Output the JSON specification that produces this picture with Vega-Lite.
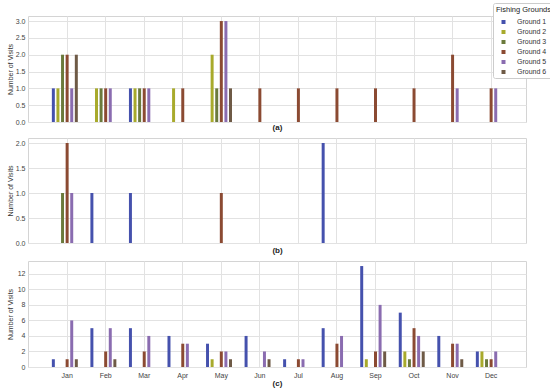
{
  "$schema": "https://vega.github.io/schema/vega-lite/v6.json",
  "padding": {"left": 5, "top": 2, "right": 1, "bottom": 0},
  "background": "white",
  "spacing": 5,
  "datasets": {
    "a": [
      {"month": "Jan", "ground": "Ground 1", "visits": 1},
      {"month": "Jan", "ground": "Ground 2", "visits": 1},
      {"month": "Jan", "ground": "Ground 3", "visits": 2},
      {"month": "Jan", "ground": "Ground 4", "visits": 2},
      {"month": "Jan", "ground": "Ground 5", "visits": 1},
      {"month": "Jan", "ground": "Ground 6", "visits": 2},
      {"month": "Feb", "ground": "Ground 2", "visits": 1},
      {"month": "Feb", "ground": "Ground 3", "visits": 1},
      {"month": "Feb", "ground": "Ground 4", "visits": 1},
      {"month": "Feb", "ground": "Ground 5", "visits": 1},
      {"month": "Mar", "ground": "Ground 1", "visits": 1},
      {"month": "Mar", "ground": "Ground 2", "visits": 1},
      {"month": "Mar", "ground": "Ground 3", "visits": 1},
      {"month": "Mar", "ground": "Ground 4", "visits": 1},
      {"month": "Mar", "ground": "Ground 5", "visits": 1},
      {"month": "Apr", "ground": "Ground 2", "visits": 1},
      {"month": "Apr", "ground": "Ground 4", "visits": 1},
      {"month": "May", "ground": "Ground 2", "visits": 2},
      {"month": "May", "ground": "Ground 3", "visits": 1},
      {"month": "May", "ground": "Ground 4", "visits": 3},
      {"month": "May", "ground": "Ground 5", "visits": 3},
      {"month": "May", "ground": "Ground 6", "visits": 1},
      {"month": "Jun", "ground": "Ground 4", "visits": 1},
      {"month": "Jul", "ground": "Ground 4", "visits": 1},
      {"month": "Aug", "ground": "Ground 4", "visits": 1},
      {"month": "Sep", "ground": "Ground 4", "visits": 1},
      {"month": "Oct", "ground": "Ground 4", "visits": 1},
      {"month": "Nov", "ground": "Ground 4", "visits": 2},
      {"month": "Nov", "ground": "Ground 5", "visits": 1},
      {"month": "Dec", "ground": "Ground 4", "visits": 1},
      {"month": "Dec", "ground": "Ground 5", "visits": 1}
    ],
    "b": [
      {"month": "Jan", "ground": "Ground 3", "visits": 1},
      {"month": "Jan", "ground": "Ground 4", "visits": 2},
      {"month": "Jan", "ground": "Ground 5", "visits": 1},
      {"month": "Feb", "ground": "Ground 1", "visits": 1},
      {"month": "Mar", "ground": "Ground 1", "visits": 1},
      {"month": "May", "ground": "Ground 4", "visits": 1},
      {"month": "Aug", "ground": "Ground 1", "visits": 2}
    ],
    "c": [
      {"month": "Jan", "ground": "Ground 1", "visits": 1},
      {"month": "Jan", "ground": "Ground 4", "visits": 1},
      {"month": "Jan", "ground": "Ground 5", "visits": 6},
      {"month": "Jan", "ground": "Ground 6", "visits": 1},
      {"month": "Feb", "ground": "Ground 1", "visits": 5},
      {"month": "Feb", "ground": "Ground 4", "visits": 2},
      {"month": "Feb", "ground": "Ground 5", "visits": 5},
      {"month": "Feb", "ground": "Ground 6", "visits": 1},
      {"month": "Mar", "ground": "Ground 1", "visits": 5},
      {"month": "Mar", "ground": "Ground 4", "visits": 2},
      {"month": "Mar", "ground": "Ground 5", "visits": 4},
      {"month": "Apr", "ground": "Ground 1", "visits": 4},
      {"month": "Apr", "ground": "Ground 4", "visits": 3},
      {"month": "Apr", "ground": "Ground 5", "visits": 3},
      {"month": "May", "ground": "Ground 1", "visits": 3},
      {"month": "May", "ground": "Ground 2", "visits": 1},
      {"month": "May", "ground": "Ground 4", "visits": 2},
      {"month": "May", "ground": "Ground 5", "visits": 2},
      {"month": "May", "ground": "Ground 6", "visits": 1},
      {"month": "Jun", "ground": "Ground 1", "visits": 4},
      {"month": "Jun", "ground": "Ground 5", "visits": 2},
      {"month": "Jun", "ground": "Ground 6", "visits": 1},
      {"month": "Jul", "ground": "Ground 1", "visits": 1},
      {"month": "Jul", "ground": "Ground 4", "visits": 1},
      {"month": "Jul", "ground": "Ground 5", "visits": 1},
      {"month": "Aug", "ground": "Ground 1", "visits": 5},
      {"month": "Aug", "ground": "Ground 4", "visits": 3},
      {"month": "Aug", "ground": "Ground 5", "visits": 4},
      {"month": "Sep", "ground": "Ground 1", "visits": 13},
      {"month": "Sep", "ground": "Ground 2", "visits": 1},
      {"month": "Sep", "ground": "Ground 4", "visits": 2},
      {"month": "Sep", "ground": "Ground 5", "visits": 8},
      {"month": "Sep", "ground": "Ground 6", "visits": 2},
      {"month": "Oct", "ground": "Ground 1", "visits": 7},
      {"month": "Oct", "ground": "Ground 2", "visits": 2},
      {"month": "Oct", "ground": "Ground 3", "visits": 1},
      {"month": "Oct", "ground": "Ground 4", "visits": 5},
      {"month": "Oct", "ground": "Ground 5", "visits": 4},
      {"month": "Oct", "ground": "Ground 6", "visits": 2},
      {"month": "Nov", "ground": "Ground 1", "visits": 4},
      {"month": "Nov", "ground": "Ground 4", "visits": 3},
      {"month": "Nov", "ground": "Ground 5", "visits": 3},
      {"month": "Nov", "ground": "Ground 6", "visits": 1},
      {"month": "Dec", "ground": "Ground 1", "visits": 2},
      {"month": "Dec", "ground": "Ground 2", "visits": 2},
      {"month": "Dec", "ground": "Ground 3", "visits": 1},
      {"month": "Dec", "ground": "Ground 4", "visits": 1},
      {"month": "Dec", "ground": "Ground 5", "visits": 2}
    ]
  },
  "config": {
    "font": "Liberation Sans",
    "view": {"stroke": "#d4d4d4", "strokeWidth": 1},
    "axis": {
      "gridColor": "#e2e2e2",
      "gridWidth": 1,
      "domain": false,
      "ticks": false,
      "labelFontSize": 7,
      "labelColor": "#444444",
      "titleFontSize": 7,
      "titleColor": "#333333",
      "titleFontWeight": "normal"
    },
    "legend": {
      "symbolType": "square",
      "symbolSize": 16,
      "symbolStrokeWidth": 0,
      "labelFontSize": 7,
      "labelColor": "#333333",
      "titleFontSize": 7.5,
      "titleFontWeight": "normal",
      "titleColor": "#222222",
      "rowPadding": 2,
      "padding": 3,
      "strokeColor": "#cccccc",
      "fillColor": "white",
      "cornerRadius": 2,
      "symbolOffset": 4,
      "labelOffset": 10
    }
  },
  "vconcat": [
    {
      "width": 498,
      "height": 106,
      "data": {"name": "a"},
      "mark": {"type": "bar"},
      "encoding": {
        "x": {
          "field": "month", "type": "ordinal",
          "scale": {"domain": ["Jan","Feb","Mar","Apr","May","Jun","Jul","Aug","Sep","Oct","Nov","Dec"], "paddingInner": 0, "paddingOuter": 0.46, "align": 0.56},
          "axis": {"labels": false, "grid": true, "bandPosition": 0.5, "title": "(a)", "titleFontWeight": "bold", "titleFontSize": 8, "titleColor": "#222222", "titlePadding": 1}
        },
        "xOffset": {
          "field": "ground", "type": "nominal",
          "scale": {"domain": ["Ground 1","Ground 2","Ground 3","Ground 4","Ground 5","Ground 6","pad"], "paddingInner": 0.35, "paddingOuter": 0.87}
        },
        "y": {
          "field": "visits", "type": "quantitative",
          "scale": {"domain": [0, 3.15], "nice": false},
          "axis": {"values": [0, 0.5, 1, 1.5, 2, 2.5, 3], "format": ".1f", "title": "Number of Visits", "minExtent": 13, "maxExtent": 13, "labelPadding": 3, "titlePadding": 2}
        },
        "color": {
          "field": "ground", "type": "nominal",
          "scale": {"domain": ["Ground 1","Ground 2","Ground 3","Ground 4","Ground 5","Ground 6"], "range": ["#4551ad","#a8aa2c","#6b7a3c","#8b4a32","#8a6cb0","#6e5a46"]},
          "legend": {"title": "Fishing Grounds", "orient": "none", "legendX": 465, "legendY": -13}
        }
      }
    },
    {
      "width": 498,
      "height": 105,
      "data": {"name": "b"},
      "mark": {"type": "bar"},
      "encoding": {
        "x": {
          "field": "month", "type": "ordinal",
          "scale": {"domain": ["Jan","Feb","Mar","Apr","May","Jun","Jul","Aug","Sep","Oct","Nov","Dec"], "paddingInner": 0, "paddingOuter": 0.46, "align": 0.56},
          "axis": {"labels": false, "grid": true, "bandPosition": 0.5, "title": "(b)", "titleFontWeight": "bold", "titleFontSize": 8, "titleColor": "#222222", "titlePadding": 3}
        },
        "xOffset": {
          "field": "ground", "type": "nominal",
          "scale": {"domain": ["Ground 1","Ground 2","Ground 3","Ground 4","Ground 5","Ground 6","pad"], "paddingInner": 0.35, "paddingOuter": 0.87}
        },
        "y": {
          "field": "visits", "type": "quantitative",
          "scale": {"domain": [0, 2.1], "nice": false},
          "axis": {"values": [0, 0.5, 1, 1.5, 2], "format": ".1f", "title": "Number of Visits", "minExtent": 13, "maxExtent": 13, "labelPadding": 3, "titlePadding": 2}
        },
        "color": {
          "field": "ground", "type": "nominal",
          "scale": {"domain": ["Ground 1","Ground 2","Ground 3","Ground 4","Ground 5","Ground 6"], "range": ["#4551ad","#a8aa2c","#6b7a3c","#8b4a32","#8a6cb0","#6e5a46"]},
          "legend": {"title": "Fishing Grounds", "orient": "none", "legendX": 465, "legendY": -13}
        }
      }
    },
    {
      "width": 498,
      "height": 106,
      "data": {"name": "c"},
      "mark": {"type": "bar"},
      "encoding": {
        "x": {
          "field": "month", "type": "ordinal",
          "scale": {"domain": ["Jan","Feb","Mar","Apr","May","Jun","Jul","Aug","Sep","Oct","Nov","Dec"], "paddingInner": 0, "paddingOuter": 0.46, "align": 0.56},
          "axis": {"labels": true, "labelAngle": 0, "labelPadding": 4, "grid": true, "bandPosition": 0.5, "title": "(c)", "titleFontWeight": "bold", "titleFontSize": 8, "titleColor": "#222222", "titlePadding": 1}
        },
        "xOffset": {
          "field": "ground", "type": "nominal",
          "scale": {"domain": ["Ground 1","Ground 2","Ground 3","Ground 4","Ground 5","Ground 6","pad"], "paddingInner": 0.35, "paddingOuter": 0.87}
        },
        "y": {
          "field": "visits", "type": "quantitative",
          "scale": {"domain": [0, 13.65], "nice": false},
          "axis": {"values": [0, 2, 4, 6, 8, 10, 12], "format": "d", "title": "Number of Visits", "minExtent": 13, "maxExtent": 13, "labelPadding": 3, "titlePadding": 2}
        },
        "color": {
          "field": "ground", "type": "nominal",
          "scale": {"domain": ["Ground 1","Ground 2","Ground 3","Ground 4","Ground 5","Ground 6"], "range": ["#4551ad","#a8aa2c","#6b7a3c","#8b4a32","#8a6cb0","#6e5a46"]},
          "legend": {"title": "Fishing Grounds", "orient": "none", "legendX": 465, "legendY": -13}
        }
      }
    }
  ]
}
